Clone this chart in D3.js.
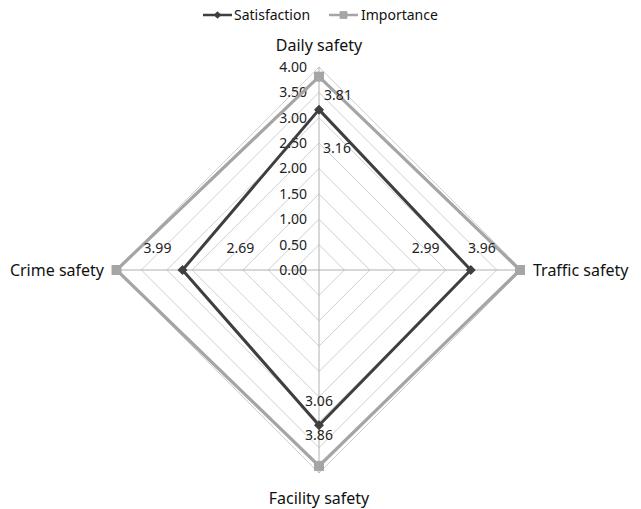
<!DOCTYPE html>
<html>
<head>
<meta charset="utf-8">
<script src="https://cdn.jsdelivr.net/npm/d3@7"></script>
<style>
  html, body { margin: 0; padding: 0; background: #fff; }
  svg { display: block; font-family: "Noto Sans", "Open Sans", sans-serif; }
</style>
</head>
<body>
<svg id="chart" width="641" height="509"></svg>
<script>
// Axes of the radar, clockwise from the top
const categories = ["Daily safety", "Traffic safety", "Facility safety", "Crime safety"];
const satisfaction = [3.16, 2.99, 3.06, 2.69];
const importance = [3.81, 3.96, 3.86, 3.99];
const tickValues = [0, 0.5, 1, 1.5, 2, 2.5, 3, 3.5, 4];
const seriesNames = ["Satisfaction", "Importance"];

const svg = d3.select("#chart");
const cx = 319, cy = 270;
const r = d3.scaleLinear().domain([0, 4]).range([0, 203]);
const ang = c => categories.indexOf(c) * (2 * Math.PI / categories.length);
const pt = (c, v) => [cx + r(v) * Math.sin(ang(c)), cy - r(v) * Math.cos(ang(c))];

const g = svg.append("g");

// concentric grid
tickValues.slice(1).forEach(t => {
  g.append("polygon")
    .attr("points", categories.map(c => pt(c, t).join(",")).join(" "))
    .attr("fill", "none")
    .attr("stroke", "#cfcfcf")
    .attr("stroke-width", 1);
});

// spokes
categories.forEach(c => {
  const [x, y] = pt(c, 4);
  g.append("line")
    .attr("x1", cx).attr("y1", cy).attr("x2", x).attr("y2", y)
    .attr("stroke", "#b0b0b0").attr("stroke-width", 1);
});

// tick labels along the top spoke
g.selectAll("text.tick").data(tickValues).join("text")
  .attr("class", "tick")
  .attr("x", cx - 12)
  .attr("y", d => cy - r(d))
  .attr("dy", "0.35em")
  .attr("text-anchor", "end")
  .attr("font-size", 14)
  .attr("fill", "#222")
  .text(d => d3.format(".2f")(d));

// category labels
const catPos = {
  "Daily safety": { dx: 0, dy: -22, anchor: "middle" },
  "Traffic safety": { dx: 11, dy: 0, anchor: "start" },
  "Facility safety": { dx: 0, dy: 25, anchor: "middle" },
  "Crime safety": { dx: -12, dy: 0, anchor: "end" }
};
categories.forEach(c => {
  const [x, y] = pt(c, 4);
  const p = catPos[c];
  g.append("text")
    .attr("x", x + p.dx).attr("y", y + p.dy)
    .attr("dy", "0.35em")
    .attr("text-anchor", p.anchor)
    .attr("font-size", 16)
    .attr("fill", "#111")
    .text(c);
});

const line = d3.line().curve(d3.curveLinearClosed);

const series = [
  { name: seriesNames[0], values: satisfaction, color: "#3f3f3f", width: 3, marker: "diamond" },
  { name: seriesNames[1], values: importance, color: "#a5a5a5", width: 3.2, marker: "square" }
];

const symbolFor = m => m === "diamond"
  ? d3.symbol().type(d3.symbolSquare).size(50)
  : d3.symbol().type(d3.symbolSquare).size(100);

series.slice().reverse().forEach(s => {
  const pts = categories.map((c, i) => pt(c, s.values[i]));
  g.append("path")
    .attr("d", line(pts))
    .attr("fill", "none")
    .attr("stroke", s.color)
    .attr("stroke-width", s.width)
    .attr("stroke-linejoin", "miter");
  pts.forEach(p => {
    g.append("path")
      .attr("d", symbolFor(s.marker)())
      .attr("transform", `translate(${p[0]},${p[1]})` + (s.marker === "diamond" ? " rotate(45)" : ""))
      .attr("fill", s.color);
  });
});

// value labels
const labelOffsets = {
  "Satisfaction": [[18, 38], [-45, -22], [0, -24], [58, -22]],
  "Importance": [[19, 18], [-38, -22], [0, -31], [41, -22]]
};
series.forEach(s => {
  categories.forEach((c, i) => {
    const [x, y] = pt(c, s.values[i]);
    const o = labelOffsets[s.name][i];
    g.append("text")
      .attr("x", x + o[0]).attr("y", y + o[1])
      .attr("dy", "0.35em")
      .attr("text-anchor", "middle")
      .attr("font-size", 14)
      .attr("fill", "#222")
      .text(d3.format(".2f")(s.values[i]));
  });
});

// legend
const legend = svg.append("g");
const legendItems = [
  { s: series[0], x0: 203, x1: 232, tx: 234 },
  { s: series[1], x0: 329, x1: 358, tx: 361 }
];
legendItems.forEach(li => {
  const ly = 15;
  legend.append("line")
    .attr("x1", li.x0).attr("x2", li.x1).attr("y1", ly).attr("y2", ly)
    .attr("stroke", li.s.color).attr("stroke-width", 2.5);
  legend.append("path")
    .attr("d", li.s.marker === "diamond"
      ? d3.symbol().type(d3.symbolSquare).size(30)()
      : d3.symbol().type(d3.symbolSquare).size(60)())
    .attr("transform", `translate(${(li.x0 + li.x1) / 2},${ly})` + (li.s.marker === "diamond" ? " rotate(45)" : ""))
    .attr("fill", li.s.color);
  legend.append("text")
    .attr("x", li.tx).attr("y", ly).attr("dy", "0.35em")
    .attr("font-size", 14).attr("fill", "#111")
    .text(li.s.name);
});
</script>
</body>
</html>
